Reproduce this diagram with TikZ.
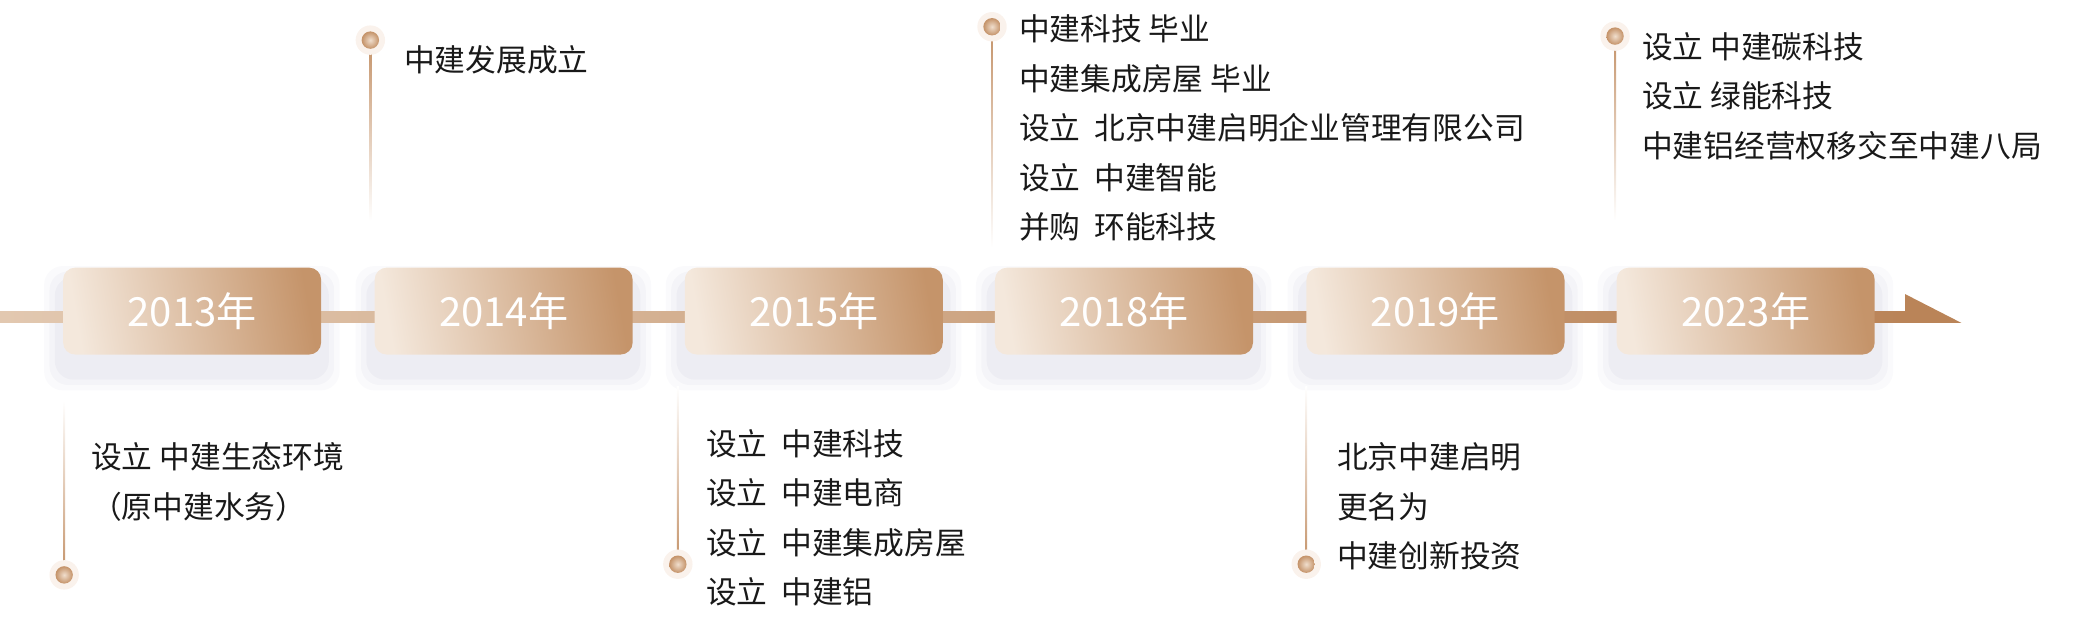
\documentclass[tikz,border=0pt]{standalone}
\usepackage{fontspec}
\setmainfont{Noto Sans CJK SC}
\usetikzlibrary{positioning}
\definecolor{boxL}{RGB}{244,232,220}
\definecolor{boxM}{RGB}{218,180,145}
\definecolor{boxR}{RGB}{197,148,106}
\definecolor{lineL}{RGB}{226,200,176}
\definecolor{lineR}{RGB}{186,132,88}
\definecolor{stem}{RGB}{196,146,104}
\definecolor{halo}{RGB}{250,242,236}
\definecolor{dotL}{RGB}{240,222,205}
\tikzset{
 yearbox/.style={rounded corners=9pt, minimum width=193pt, minimum height=65pt, inner sep=0pt,
   text=white, font=\fontsize{30}{30}\selectfont, shading=axis, left color=boxL, middle color=boxM, right color=boxR, shading angle=100},
 evtext/.style={anchor=north west, inner sep=0pt, align=left, font=\fontsize{23}{37}\selectfont, text=black!90},
}
\newcommand{\mydot}[2]{%
 \fill[halo] (#1) circle (11pt);
 \shade[inner color=dotL, outer color=stem] (#1) circle (6.5pt);
}
\begin{document}
\begin{tikzpicture}[x=1pt,y=-1pt]
\useasboundingbox (0,0) rectangle (1561,470);
% shadows
\foreach \x in {47,280,512,744,977,1209}{
  \foreach \o/\op in {14/0.03,10/0.04,6/0.05}{
   \fill[blue!20!gray, opacity=\op, rounded corners=14pt] (\x-\o,205-\o+8) rectangle (\x+193+\o,270+\o+8);
  }
}
% timeline
\shade[left color=lineL, right color=lineR] (0,233) rectangle (1426,241.5);
\fill[lineR] (1425,220) -- (1467,241.5) -- (1425,241.5) -- cycle;
% boxes
\node[yearbox, anchor=north west] (y13) at (47,200) {2013年};
\node[yearbox, anchor=north west] (y14) at (280,200) {2014年};
\node[yearbox, anchor=north west] (y15) at (512,200) {2015年};
\node[yearbox, anchor=north west] (y18) at (744,200) {2018年};
\node[yearbox, anchor=north west] (y19) at (977,200) {2019年};
\node[yearbox, anchor=north west] (y23) at (1209,200) {2023年};
% stems
\shade[top color=white, bottom color=stem] (47.3,300) rectangle (48.7,430);
\shade[top color=stem, bottom color=white] (276.3,30) rectangle (277.7,165);
\shade[top color=white, bottom color=stem] (506.3,289) rectangle (507.7,422);
\shade[top color=stem, bottom color=white] (741.3,20) rectangle (742.7,185);
\shade[top color=white, bottom color=stem] (976.3,289) rectangle (977.7,422);
\shade[top color=stem, bottom color=white] (1207.3,27) rectangle (1208.7,165);
\coordinate (d13) at (48,430); \mydot{d13}{}
\coordinate (d14) at (277,30); \mydot{d14}{}
\coordinate (d15) at (507,422); \mydot{d15}{}
\coordinate (d18) at (742,20); \mydot{d18}{}
\coordinate (d19) at (977,422); \mydot{d19}{}
\coordinate (d23) at (1208,27); \mydot{d23}{}
% texts
\node[evtext] (t13) at (68,331) {设立 中建生态环境\\（原中建水务）};
\node[evtext] (t14) at (302,34) {中建发展成立};
\node[evtext] (t15) at (528,321) {设立\ \ 中建科技\\设立\ \ 中建电商\\设立\ \ 中建集成房屋\\设立\ \ 中建铝};
\node[evtext] (t18) at (762,11) {中建科技 毕业\\中建集成房屋 毕业\\设立\ \ 北京中建启明企业管理有限公司\\设立\ \ 中建智能\\并购\ \ 环能科技};
\node[evtext] (t19) at (1000,331) {北京中建启明\\更名为\\中建创新投资};
\node[evtext] (t23) at (1228,24) {设立 中建碳科技\\设立 绿能科技\\中建铝经营权移交至中建八局};
\end{tikzpicture}
\end{document}
